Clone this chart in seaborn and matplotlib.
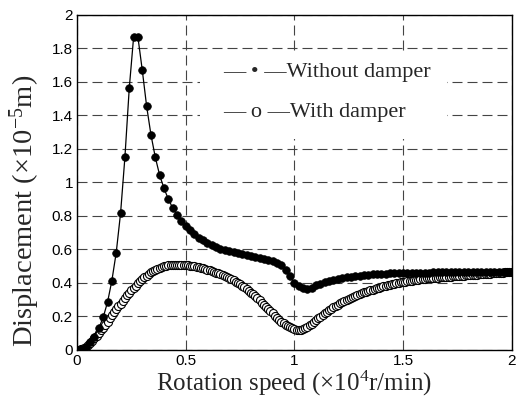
import numpy as np
import pandas as pd
import matplotlib
matplotlib.use("Agg")
import matplotlib.pyplot as plt
from matplotlib.patches import Rectangle
import seaborn as sns

# Displacement (x1e-5 m) without damper, sampled every 0.02 (x1e4 r/min)
step_without = 0.02
disp_without = [
    0.000, 0.005, 0.020, 0.045, 0.080, 0.130, 0.195, 0.285, 0.414, 0.581,
    0.816, 1.150, 1.562, 1.867, 1.867, 1.670, 1.455, 1.284, 1.150, 1.043,
    0.965, 0.900, 0.848, 0.808, 0.770, 0.740, 0.715, 0.690, 0.670, 0.655,
    0.640, 0.627, 0.615, 0.605, 0.597, 0.590, 0.583, 0.577, 0.571, 0.566,
    0.561, 0.556, 0.551, 0.545, 0.538, 0.530, 0.520, 0.505, 0.480, 0.440,
    0.400, 0.380, 0.368, 0.364, 0.370, 0.385, 0.395, 0.405, 0.413, 0.420,
    0.426, 0.431, 0.435, 0.438, 0.441, 0.444, 0.447, 0.449, 0.451, 0.453,
    0.455, 0.456, 0.457, 0.458, 0.459, 0.459, 0.460, 0.460, 0.461, 0.461,
    0.462, 0.462, 0.463, 0.463, 0.463, 0.464, 0.464, 0.464, 0.465, 0.465,
    0.465, 0.465, 0.466, 0.466, 0.466, 0.466, 0.467, 0.467, 0.467, 0.467,
    0.468,
]

# Displacement (x1e-5 m) with damper, sampled every 0.01 (x1e4 r/min)
step_with = 0.01
disp_with = [
    0.000, 0.002, 0.006, 0.012, 0.020, 0.030, 0.042, 0.055, 0.069, 0.084,
    0.100, 0.117, 0.134, 0.152, 0.170, 0.188, 0.206, 0.224, 0.242, 0.260,
    0.277, 0.294, 0.310, 0.326, 0.341, 0.356, 0.370, 0.384, 0.397, 0.410,
    0.422, 0.433, 0.444, 0.454, 0.463, 0.471, 0.478, 0.485, 0.491, 0.496,
    0.500, 0.503, 0.506, 0.508, 0.509, 0.510, 0.510, 0.510, 0.509, 0.508,
    0.507, 0.505, 0.503, 0.501, 0.499, 0.496, 0.493, 0.490, 0.487, 0.483,
    0.479, 0.475, 0.471, 0.467, 0.462, 0.457, 0.452, 0.447, 0.441, 0.435,
    0.429, 0.422, 0.415, 0.408, 0.400, 0.392, 0.383, 0.374, 0.364, 0.354,
    0.343, 0.332, 0.320, 0.308, 0.296, 0.283, 0.270, 0.257, 0.244, 0.231,
    0.218, 0.205, 0.193, 0.181, 0.170, 0.160, 0.151, 0.142, 0.135, 0.129,
    0.124, 0.121, 0.120, 0.121, 0.125, 0.131, 0.139, 0.148, 0.158, 0.168,
    0.178, 0.188, 0.198, 0.208, 0.218, 0.228, 0.237, 0.246, 0.255, 0.263,
    0.271, 0.279, 0.286, 0.293, 0.300, 0.306, 0.312, 0.318, 0.324, 0.329,
    0.334, 0.339, 0.344, 0.348, 0.352, 0.356, 0.360, 0.364, 0.368, 0.372,
    0.376, 0.379, 0.382, 0.385, 0.388, 0.391, 0.394, 0.397, 0.400, 0.403,
    0.406, 0.408, 0.410, 0.412, 0.414, 0.416, 0.418, 0.420, 0.422, 0.424,
    0.426, 0.427, 0.428, 0.429, 0.430, 0.431, 0.432, 0.433, 0.434, 0.435,
    0.436, 0.437, 0.438, 0.439, 0.440, 0.441, 0.442, 0.443, 0.444, 0.445,
    0.446, 0.447, 0.448, 0.449, 0.450, 0.451, 0.452, 0.453, 0.454, 0.455,
    0.456, 0.457, 0.458, 0.459, 0.460, 0.461, 0.462, 0.463, 0.464, 0.465,
    0.466,
]

x_ticks = [0, 0.5, 1, 1.5, 2]
x_tick_labels = ["0", "0.5", "1", "1.5", "2"]
y_ticks = [0, 0.2, 0.4, 0.6, 0.8, 1.0, 1.2, 1.4, 1.6, 1.8, 2.0]
y_tick_labels = ["0", "0.2", "0.4", "0.6", "0.8", "1", "1.2", "1.4", "1.6", "1.8", "2"]
legend_labels = ["\u2014 \u2022 \u2014Without damper", "\u2014 o \u2014With damper"]

speed_without = np.arange(len(disp_without)) * step_without
speed_with = np.arange(len(disp_with)) * step_with
df_without = pd.DataFrame({"speed": speed_without, "disp": disp_without})
df_with = pd.DataFrame({"speed": speed_with, "disp": disp_with})

sns.set_style("white")
plt.rcParams["font.family"] = ["Liberation Sans", "DejaVu Sans"]
plt.rcParams["mathtext.fontset"] = "custom"
plt.rcParams["mathtext.rm"] = "Liberation Serif"
plt.rcParams["mathtext.it"] = "Liberation Serif:italic"
plt.rcParams["mathtext.bf"] = "Liberation Serif:bold"

fig = plt.figure(figsize=(5.21, 4.16), dpi=100)
ax = fig.add_axes([0.148, 0.1587, 0.834, 0.8053])

sns.lineplot(data=df_with, x="speed", y="disp", ax=ax, color="black",
             linewidth=0.8, marker="o", markersize=5.8, markerfacecolor="white",
             markeredgecolor="black", markeredgewidth=0.8, zorder=3)
sns.lineplot(data=df_without, x="speed", y="disp", ax=ax, color="black",
             linewidth=0.9, marker="o", markersize=5.5, markerfacecolor="black",
             markeredgecolor="black", markeredgewidth=0.5, zorder=4)

ax.set_xlim(0, 2)
ax.set_ylim(0, 2)
ax.set_xticks(x_ticks)
ax.set_xticklabels(x_tick_labels)
ax.set_yticks(y_ticks)
ax.set_yticklabels(y_tick_labels)
ax.tick_params(direction="in", length=4, width=0.8, labelsize=11,
               colors="black", pad=3)
ax.grid(True, color="#444444", linestyle=(0, (9, 4.5)), linewidth=0.8)
ax.set_axisbelow(True)
for s in ax.spines.values():
    s.set_color("black")
    s.set_linewidth(1.0)

# white background behind the in-plot legend text
ax.add_patch(Rectangle((0.283, 0.63), 0.568, 0.26, transform=ax.transAxes,
                       facecolor="white", edgecolor="none", zorder=1))

serif = ["Liberation Serif", "DejaVu Serif"]
ax.set_xlabel("Rotation speed (\u00d710$^{4}$r/min)", fontsize=18,
              family=serif)
ax.xaxis.set_label_coords(0.5, -0.056)
ax.set_ylabel("Displacement (\u00d710$^{-5}$m)", fontsize=20.5, family=serif,
              va="center")
ax.yaxis.set_label_coords(-0.12, 0.415)

ax.text(0.336, 0.815, legend_labels[0], transform=ax.transAxes, fontsize=16,
        family=serif + ["DejaVu Sans"], va="baseline", ha="left", zorder=5)
ax.text(0.336, 0.6955, legend_labels[1], transform=ax.transAxes, fontsize=16,
        family=serif + ["DejaVu Sans"], va="baseline", ha="left", zorder=5)

fig.savefig("out.png", dpi=100)
